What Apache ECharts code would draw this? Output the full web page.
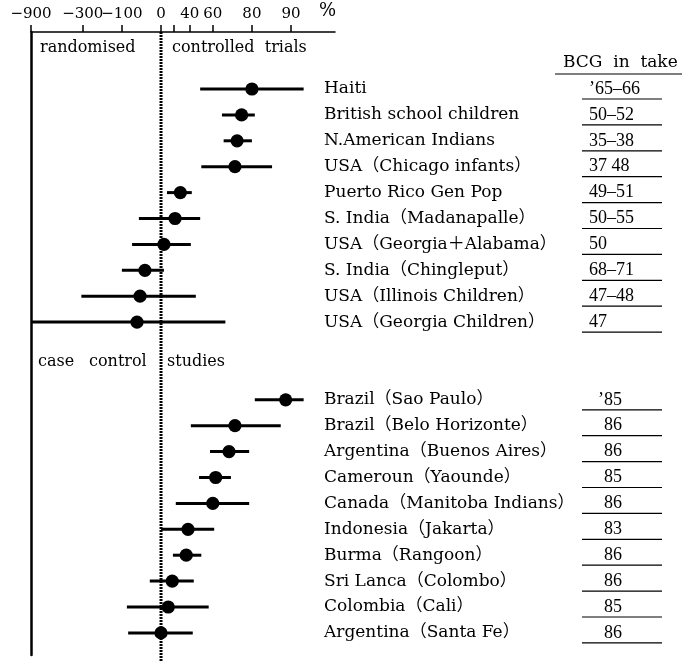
<!DOCTYPE html>
<html><head><meta charset="utf-8">
<script src="https://cdn.jsdelivr.net/npm/echarts@6/dist/echarts.min.js"></script>
<style>html,body{margin:0;padding:0;background:#fff}#c{width:682px;height:662px}</style>
</head><body><div id="c"></div>
<script>
const trialNames = ['Haiti','British school children','N.American Indians','USA（Chicago infants）','Puerto Rico Gen Pop','S. India（Madanapalle）','USA（Georgia＋Alabama）','S. India（Chingleput）','USA（Illinois Children）','USA（Georgia Children）'];
const trialEst = [80, 76, 74, 73, 29, 22, 5, -33, -45, -53];
const trialLo = [50, 66, 67, 51, 10, -48, -67, -100, -310, -900];
const trialHi = [92, 81, 80, 86, 42, 50, 41, 5, 46, 68];
const trialIntake = ['’65–66','50–52','35–38','37 48','49–51','50–55','50','68–71','47–48','47'];

const caseNames = ['Brazil（Sao Paulo）','Brazil（Belo Horizonte）','Argentina（Buenos Aires）','Cameroun（Yaounde）','Canada（Manitoba Indians）','Indonesia（Jakarta）','Burma（Rangoon）','Sri Lanca（Colombo）','Colombia（Cali）','Argentina（Santa Fe）'];
const caseEst = [89, 73, 70, 62, 60, 38, 36, 18, 12, 0];
const caseLo = [81, 41, 58, 49, 23, 0, 19, -22, -83, -79];
const caseHi = [92, 88, 79, 71, 79, 61, 51, 44, 57, 43];
const caseIntake = ['’85','86','86','85','86','83','86','86','85','86'];

const tickPct = [-900, -300, -100, 0, 40, 60, 80, 90];
const minorTickPct = [20];

const tx = p => -Math.log10(1 - p / 100);
const FONT = "'DejaVu Serif','Noto Sans CJK JP',serif";
const NUMFONT = "'Liberation Serif','DejaVu Serif',serif";

const data = [];
trialNames.forEach((n, i) => data.push([tx(trialLo[i]), tx(trialEst[i]), tx(trialHi[i]), i, i, 0]));
caseNames.forEach((n, i) => data.push([tx(caseLo[i]), tx(caseEst[i]), tx(caseHi[i]), 12 + i, i, 1]));

const chart = echarts.init(document.getElementById('c'));
chart.setOption({
  backgroundColor: '#fff',
  animation: false,
  grid: { left: 31, top: 32, width: 304, height: 623 },
  xAxis: {
    type: 'value', position: 'top', min: -1, max: 1.338,
    axisLine: { show: true, onZero: false, lineStyle: { color: '#000', width: 1.5 } },
    axisTick: { show: true, inside: false, length: 7, customValues: tickPct.concat(minorTickPct).map(tx), lineStyle: { color: '#000', width: 1.5 } },
    axisLabel: {
      customValues: tickPct.map(tx), margin: 10, color: '#000', fontFamily: FONT, fontSize: 15,
      formatter: v => { const p = Math.round(100 * (1 - Math.pow(10, -v))); return p < 0 ? '−' + (-p) : String(p); }
    },
    splitLine: { show: false }
  },
  yAxis: {
    type: 'value', inverse: true, min: -2.2008, max: 21.853,
    axisLine: { show: true, onZero: false, lineStyle: { color: '#000', width: 2.5 } },
    axisTick: { show: false }, axisLabel: { show: false }, splitLine: { show: false }
  },
  series: [
    {
      type: 'line', data: [[0, -2.2008], [0, 22.13]], symbol: 'none', clip: false,
      lineStyle: { color: '#000', width: 3, type: [2, 1] }, z: 1
    },
    {
      type: 'custom', clip: false, z: 3,
      data: data,
      renderItem: (params, api) => {
        const row = api.value(3), idx = api.value(4), sec = api.value(5);
        const lo = api.coord([api.value(0), row]);
        const est = api.coord([api.value(1), row]);
        const hi = api.coord([api.value(2), row]);
        const name = sec === 0 ? trialNames[idx] : caseNames[idx];
        const intake = sec === 0 ? trialIntake[idx] : caseIntake[idx];
        const y = est[1];
        return {
          type: 'group',
          children: [
            { type: 'line', shape: { x1: lo[0], y1: lo[1], x2: hi[0], y2: hi[1] }, style: { stroke: '#000', lineWidth: 3 } },
            { type: 'circle', shape: { cx: est[0], cy: est[1], r: 6.6 }, style: { fill: '#000' } },
            { type: 'text', style: { x: 324, y: y, text: name, fill: '#000', font: '17px ' + FONT, verticalAlign: 'middle', align: 'left' } },
            { type: 'text', style: { x: sec === 0 ? 589 : 622, y: y, text: intake, fill: '#000', font: '18px ' + NUMFONT, verticalAlign: 'middle', align: sec === 0 ? 'left' : 'right' } },
            { type: 'line', shape: { x1: 582, y1: y + 10, x2: 662, y2: y + 10 }, style: { stroke: '#000', lineWidth: 1.2 } }
          ]
        };
      }
    }
  ],
  graphic: [
    { type: 'text', left: 319, top: 2, style: { text: '%', fill: '#000', font: '18px ' + FONT } },
    { type: 'text', left: 40, top: 40, style: { text: 'randomised', fill: '#000', font: '16px ' + FONT } },
    { type: 'text', left: 172, top: 40, style: { text: 'controlled  trials', fill: '#000', font: '16px ' + FONT } },
    { type: 'text', left: 38, top: 354, style: { text: 'case', fill: '#000', font: '16px ' + FONT } },
    { type: 'text', left: 89, top: 354, style: { text: 'control', fill: '#000', font: '16px ' + FONT } },
    { type: 'text', left: 167, top: 354, style: { text: 'studies', fill: '#000', font: '16px ' + FONT } },
    { type: 'text', left: 563, top: 54, style: { text: 'BCG  in  take', fill: '#000', font: '17px ' + FONT } },
    { type: 'line', shape: { x1: 555, y1: 74, x2: 682, y2: 74 }, style: { stroke: '#000', lineWidth: 1.2 } }
  ]
});
</script></body></html>
